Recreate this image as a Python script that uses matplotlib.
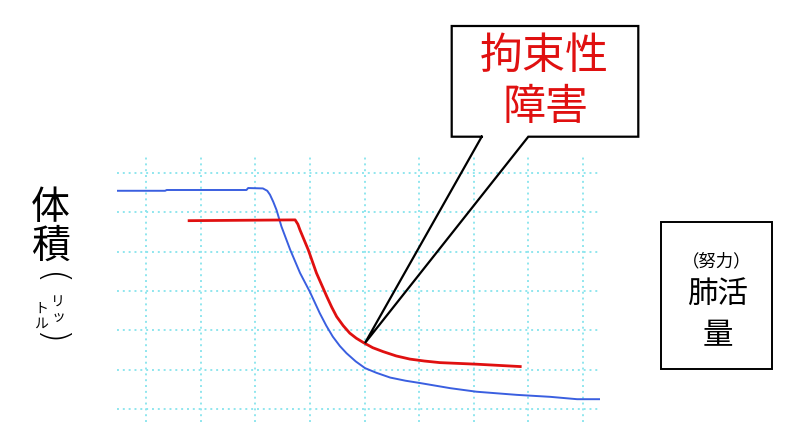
import matplotlib
matplotlib.use("Agg")
import matplotlib.pyplot as plt
from matplotlib.patches import Rectangle

plt.rcParams["font.family"] = ["Noto Sans CJK JP", "DejaVu Sans"]

# volume-time curves, x in grid columns, y in grid rows
normal_x = [0.46, 1.35, 1.38, 2.84, 2.87, 3.14, 3.22, 3.27, 3.33, 3.39, 3.48,
            3.64, 3.82, 4.00, 4.18, 4.30, 4.42, 4.55, 4.67, 4.84, 5.01, 5.22,
            5.47, 5.75, 6.02, 6.57, 7.05, 7.79, 8.40, 8.89, 9.31]
normal_y = [5.55, 5.55, 5.57, 5.57, 5.62, 5.61, 5.55, 5.45, 5.27, 5.06, 4.64,
            4.05, 3.46, 2.98, 2.44, 2.12, 1.84, 1.60, 1.42, 1.21, 1.04, 0.92,
            0.80, 0.72, 0.66, 0.53, 0.44, 0.36, 0.31, 0.25, 0.25]
restr_x = [1.79, 3.73, 3.78, 3.82, 3.97, 4.12, 4.31, 4.40, 4.49, 4.61, 4.73,
           4.85, 4.98, 5.15, 5.34, 5.58, 5.83, 6.10, 6.38, 7.05, 7.85]
restr_y = [4.79, 4.81, 4.70, 4.55, 4.05, 3.46, 2.86, 2.59, 2.35, 2.12, 1.93,
           1.80, 1.69, 1.56, 1.46, 1.35, 1.27, 1.22, 1.18, 1.14, 1.08]

callout_lines = ["拘束性", "障害"]
ylabel_main = ["体", "積"]
ylabel_unit = ["リッ", "トル"]
xlabel_lines = ["（努力）", "肺活", "量"]

W, H = 800, 445
fig = plt.figure(figsize=(8, 4.45), dpi=100)

# grid area
ax = fig.add_axes([117 / W, 1 - 422 / H, (600 - 117) / W, (422 - 155) / H])
ax.set_xlim(0.47, 9.31)
ax.set_ylim(-0.33, 6.46)
ax.set_xticks(range(1, 10))
ax.set_yticks(range(0, 7))
ax.grid(True, color="#8fe6ee", lw=1.4, ls=(0, (1, 2)))
ax.tick_params(length=0, labelbottom=False, labelleft=False)
for sp in ax.spines.values():
    sp.set_visible(False)
ax.plot(normal_x, normal_y, color="#3a5fe0", lw=1.4, zorder=3)
ax.plot(restr_x, restr_y, color="#e01010", lw=2.0, zorder=3)

# overlay in pixel coords for boxes and labels
ov = fig.add_axes([0, 0, 1, 1], facecolor="none")
ov.set_xlim(0, W)
ov.set_ylim(H, 0)
ov.axis("off")

# callout box with pointer to the red curve
apex = (365, 343)
ov.add_patch(Rectangle((451.7, 26), 186.6, 110.7, facecolor="white",
                       edgecolor="none", zorder=4))
px = [481.7, 451.7, 451.7, 638.3, 638.3, 528.3, apex[0], 481.7]
py = [136.7, 136.7, 26, 26, 136.7, 136.7, apex[1], 136.7]
ov.plot(px, py, color="black", lw=1.6, zorder=5, solid_joinstyle="miter")
ov.text(544, 57, callout_lines[0], color="#e01010", fontsize=31,
        ha="center", va="center", zorder=6)
ov.text(545.5, 108, callout_lines[1], color="#e01010", fontsize=31,
        ha="center", va="center", zorder=6)

# x-axis label box
ov.add_patch(Rectangle((660.7, 221.7), 111, 147.3, facecolor="white",
                       edgecolor="black", lw=1.4, zorder=4))
ov.text(716.5, 261.5, xlabel_lines[0], fontsize=12.5, ha="center",
        va="center", zorder=6)
ov.text(717.5, 294.5, xlabel_lines[1], fontsize=22, ha="center",
        va="center", zorder=6)
ov.text(717.5, 336, xlabel_lines[2], fontsize=22, ha="center",
        va="center", zorder=6)

# vertical y-axis label
ov.text(50, 208, ylabel_main[0], fontsize=28, ha="center", va="center")
ov.text(50, 247, ylabel_main[1], fontsize=28, ha="center", va="center")
ov.text(50, 279, "(", fontsize=26, rotation=-90, ha="center", va="center",
        family="DejaVu Sans", fontweight="light")
ov.text(50, 338, ")", fontsize=26, rotation=-90, ha="center", va="center",
        family="DejaVu Sans", fontweight="light")
ov.text(58, 310, "\n".join(ylabel_unit[0]), fontsize=10, linespacing=1.05,
        ha="center", va="center")
ov.text(41, 316, "\n".join(ylabel_unit[1]), fontsize=10, linespacing=1.05,
        ha="center", va="center")

fig.savefig("out.png", dpi=100)
